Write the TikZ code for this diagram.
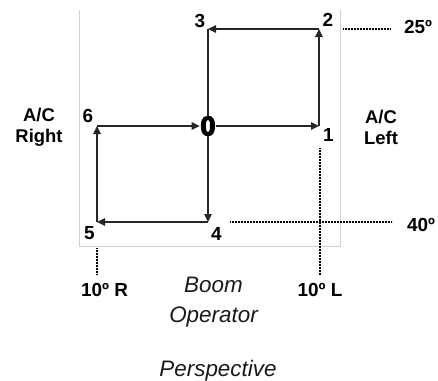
\documentclass[tikz,border=0pt]{standalone}
\usepackage{fontspec}
\setmainfont{Liberation Sans}
\newfontfamily\zerofont{Liberation Sans}[BoldFont={Liberation Sans Bold}, BoldFeatures={FakeBold=5}]
\usetikzlibrary{arrows.meta}
\begin{document}
\begin{tikzpicture}[x=1bp,y=-1bp,
  num/.style={font=\bfseries\fontsize{19}{21}\selectfont, inner sep=0pt, text=black},
  side/.style={font=\bfseries\fontsize{18.5}{21}\selectfont, inner sep=0pt, align=center, text=black},
  capt/.style={font=\itshape\fontsize{22.5}{30}\selectfont, inner sep=0pt, align=center, text=black!90},
  flow/.style={draw=black!85, line width=1.3bp, -{Triangle[length=8bp,width=7.5bp]}},
  plain/.style={draw=black!85, line width=1.3bp},
  guide/.style={draw=black, line width=1.4bp, dash pattern=on 0.8bp off 0.7bp},
  frame/.style={draw=black!18, line width=0.8bp}]
\useasboundingbox (0,0) rectangle (438,380);
% frame
\draw[frame] (79,10) -- (79,246) -- (340,246) -- (340,10);
% path coordinates
\coordinate (c1) at (319,126);
\coordinate (c2) at (319,29);
\coordinate (c3) at (208,29);
\coordinate (c4) at (208,222);
\coordinate (c5) at (97,222);
\coordinate (c6) at (97,126);
\node[font=\zerofont\bfseries\fontsize{27}{28}\selectfont, fill=white, inner sep=0.6bp] (n0) at (208,126) {0};
% flow
\draw[plain] (c3) -- (n0);
\draw[flow] (n0) -- (c1);
\draw[flow] (c1) -- (c2);
\draw[flow] (c2) -- (c3);
\draw[flow] (n0) -- (c4);
\draw[flow] (c4) -- (c5);
\draw[flow] (c5) -- (c6);
\draw[flow] (c6) -- (n0);
% point labels
\node[num] (l1) at (328.5,135) {1};
\node[num] (l2) at (328,19.5) {2};
\node[num] (l3) at (200,20.5) {3};
\node[num] (l4) at (216.5,233.5) {4};
\node[num] (l5) at (89.5,233.5) {5};
\node[num] (l6) at (88,116) {6};
% side labels
\node[side] (acr) at (39,127) {A/C\\Right};
\node[side] (acl) at (381,127) {A/C\\Left};
% guides
\node[num] (t25) at (418,27) {25º};
\node[num] (t40) at (421,225) {40º};
\node[num] (tL) at (320,290) {10º L};
\node[num] (tR) at (104.5,290) {10º R};
\coordinate (g25) at (343,29);
\coordinate (g25e) at (390,29);
\coordinate (g40) at (230,222);
\coordinate (g40e) at (392,222);
\coordinate (gL) at (320,148);
\coordinate (gLe) at (320,275);
\coordinate (gR) at (97,248);
\coordinate (gRe) at (97,275);
\draw[guide] (g25) -- (g25e);
\draw[guide] (g40) -- (g40e);
\draw[guide] (gL) -- (gLe);
\draw[guide] (gR) -- (gRe);
% caption
\node[capt] (boom) at (213.5,302) {Boom\\Operator};
\node[capt, anchor=base] (persp) at (218,376) {Perspective};
\end{tikzpicture}
\end{document}
